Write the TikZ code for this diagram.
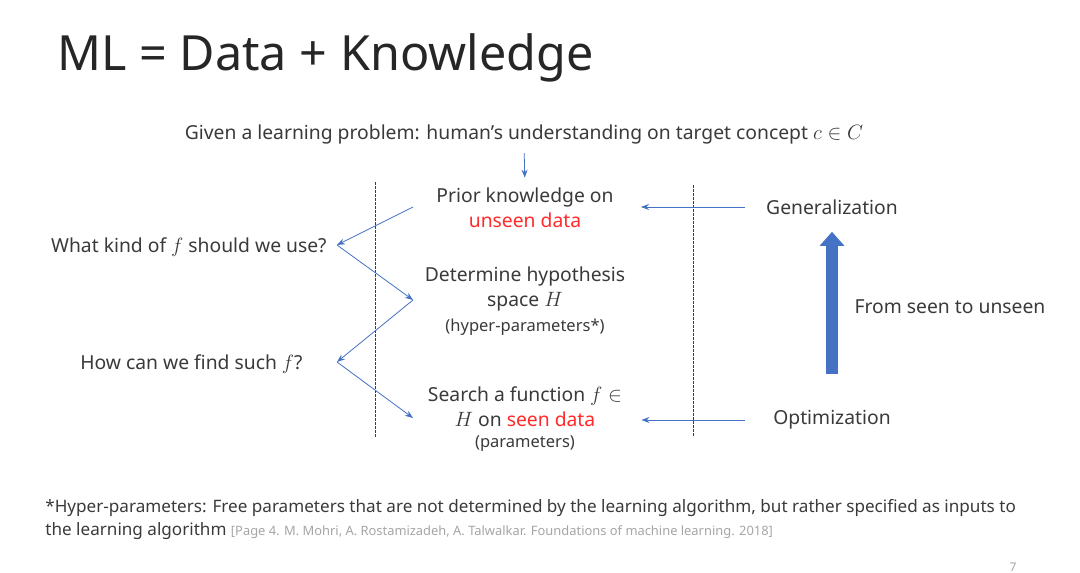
\documentclass[tikz,border=0pt]{standalone}
\usepackage{fontspec}
\setmainfont{Noto Sans}
\usetikzlibrary{arrows.meta}
\definecolor{linkblue}{HTML}{4472C4}
\definecolor{inkgray}{HTML}{3A3A3A}
\definecolor{refgray}{HTML}{A6A6A6}
\definecolor{hotred}{HTML}{FF2A2A}
\newcommand{\red}[1]{\textcolor{hotred}{#1}}

\begin{document}
\begin{tikzpicture}[x=1pt,y=-1pt,line width=0.8pt,
  txt/.style={text=inkgray,font=\fontsize{19.3}{25}\selectfont,align=center,inner sep=0pt},
  note/.style={text=inkgray,font=\fontsize{16.5}{18}\selectfont,inner sep=0pt},
  link/.style={linkblue,-{Stealth[length=8pt,width=6pt]}},
  divider/.style={inkgray,dash pattern=on 2.5pt off 1.5pt,line width=0.7pt}]
\useasboundingbox[fill=white] (0,0) rectangle (1080,573);
%%%%%%%%%%%%%%%%%%%% title and problem %%%%%%%%%%%%%%%%%%%%
\node[anchor=west,inner sep=0pt,text=black!85,font=\fontsize{48.5}{56}\selectfont] (title) at (57,58) {ML = Data + Knowledge};
\node[txt] (given) at (524,134) {Given a learning problem: human's understanding on target concept $c\in C$};
%%%%%%%%%%%%%%%%%%%% middle column %%%%%%%%%%%%%%%%%%%%
\node[txt] (prior) at (525,208) {Prior knowledge on\\\red{unseen data}};
\node[txt] (hyp) at (525,289) {Determine hypothesis\\space $H$};
\node[note] (hypnote) at (525,327) {(hyper-parameters*)};
\node[txt] (search) at (525,407) {Search a function $f\in$\\$H$ on \red{seen data}};
\node[note] (searchnote) at (525,444) {(parameters)};
\draw[link,shorten <=9pt,shorten >=10pt] (given.south) -- (prior.north);
%%%%%%%%%%%%%%%%%%%% dashed dividers %%%%%%%%%%%%%%%%%%%%
\coordinate (ltop) at (375,182); \coordinate (lbot) at (375,437);
\coordinate (rtop) at (693,185); \coordinate (rbot) at (693,437);
\draw[divider] (ltop) -- (lbot);
\draw[divider] (rtop) -- (rbot);
%%%%%%%%%%%%%%%%%%%% questions and zigzag %%%%%%%%%%%%%%%%%%%%
\node[txt,anchor=east] (kind) at (327,247) {What kind of $f$ should we use?};
\node[txt,anchor=east] (find) at (303,364) {How can we find such $f$?};
\coordinate (priorin) at (413,207);
\coordinate (kindtip) at (337,245);
\coordinate (hypin) at (413,300);
\coordinate (findtip) at (337,362);
\coordinate (searchin) at (413,418);
\draw[link] (priorin) -- (kindtip);
\draw[link] (kindtip) -- (hypin);
\draw[link] (hypin) -- (findtip);
\draw[link] (findtip) -- (searchin);
%%%%%%%%%%%%%%%%%%%% right column %%%%%%%%%%%%%%%%%%%%
\node[txt] (gen) at (832,207) {Generalization};
\node[txt] (opt) at (832,420) {Optimization};
\node[txt] (seen) at (950,307) {From seen to unseen};
\draw[link,shorten <=21pt,shorten >=27pt] (gen.west) -- (prior.east |- gen.west);
\draw[link,shorten <=28pt,shorten >=19pt] (opt.west) -- (search.east |- opt.west);
\draw[linkblue,line width=12pt,-{Triangle[length=14pt,width=24pt]},shorten <=36pt,shorten >=17pt] (opt.north) -- (gen.south);
%%%%%%%%%%%%%%%%%%%% footnote %%%%%%%%%%%%%%%%%%%%
\node[note,anchor=west,font=\fontsize{17.1}{19}\selectfont] (foot) at (45,508) {*Hyper-parameters: Free parameters that are not determined by the learning algorithm, but rather specified as inputs to};
\node[note,anchor=west,font=\fontsize{17.1}{19}\selectfont] (foottwo) at (45,531) {the learning algorithm \textcolor{refgray}{\fontsize{12.9}{14}\selectfont [Page 4. M. Mohri, A. Rostamizadeh, A. Talwalkar. Foundations of machine learning. 2018]}};
\node[inner sep=0pt,text=refgray,font=\fontsize{12}{14}\selectfont] (page) at (1013,567) {7};
\end{tikzpicture}
\end{document}
